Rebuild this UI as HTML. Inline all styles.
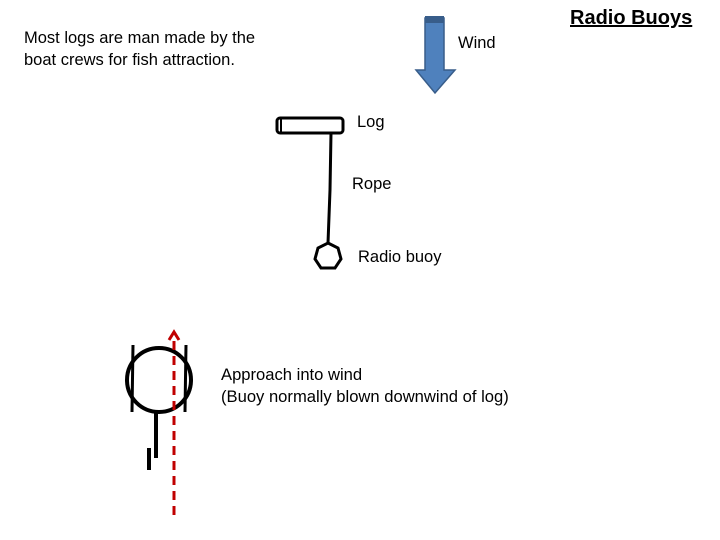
<!DOCTYPE html>
<html><head><style>
body{margin:0;width:720px;height:540px;background:#fff;position:relative;overflow:hidden;font-family:"Liberation Sans",sans-serif;}
.t{position:absolute;font-size:16.5px;color:#000;line-height:22px;white-space:nowrap;}
</style></head><body>
<svg width="720" height="540" style="position:absolute;left:0;top:0">
<polygon points="425,18 444,18 444,70 455,70 435,93 416,70 425,70" fill="#4f81bd" stroke="#385d8a" stroke-width="1.5"/>
<rect x="425" y="16" width="19" height="7" fill="#385d8a"/>
<rect x="277" y="118" width="66" height="15" rx="3" fill="#fff" stroke="#000" stroke-width="3"/>
<line x1="281" y1="118" x2="281" y2="133" stroke="#000" stroke-width="2"/>
<polyline points="331,133 330,190 328,243" fill="none" stroke="#000" stroke-width="3"/>
<polygon points="328,243 338,248 341,259 335,268 321,268 315,259 318,248" fill="#fff" stroke="#000" stroke-width="3"/>
<circle cx="159" cy="380" r="32" fill="#fff" stroke="#000" stroke-width="4"/>
<line x1="133" y1="345" x2="132" y2="412" stroke="#000" stroke-width="3"/>
<line x1="186" y1="345" x2="185" y2="412" stroke="#000" stroke-width="3"/>
<line x1="156" y1="412" x2="156" y2="458" stroke="#000" stroke-width="4"/>
<line x1="149" y1="448" x2="149" y2="470" stroke="#000" stroke-width="4"/>
<line x1="174" y1="515" x2="174" y2="338" stroke="#c00000" stroke-width="3" stroke-dasharray="9,6"/>
<polyline points="169,340 174,332 179,340" fill="none" stroke="#c00000" stroke-width="3"/>
</svg>
<div class="t" style="left:24px;top:27px;font-size:16.5px">Most logs are man made by the<br>boat crews for fish attraction.</div>
<div class="t" style="left:458px;top:32px">Wind</div>
<div class="t" style="left:357px;top:111px">Log</div>
<div class="t" style="left:352px;top:173px">Rope</div>
<div class="t" style="left:358px;top:246px">Radio buoy</div>
<div class="t" style="left:221px;top:364px;font-size:16.6px">Approach into wind<br>(Buoy normally blown downwind of log)</div>
<div class="t" style="left:570px;top:7px;font-size:20px;font-weight:bold;text-decoration:underline">Radio Buoys</div>
</body></html>
